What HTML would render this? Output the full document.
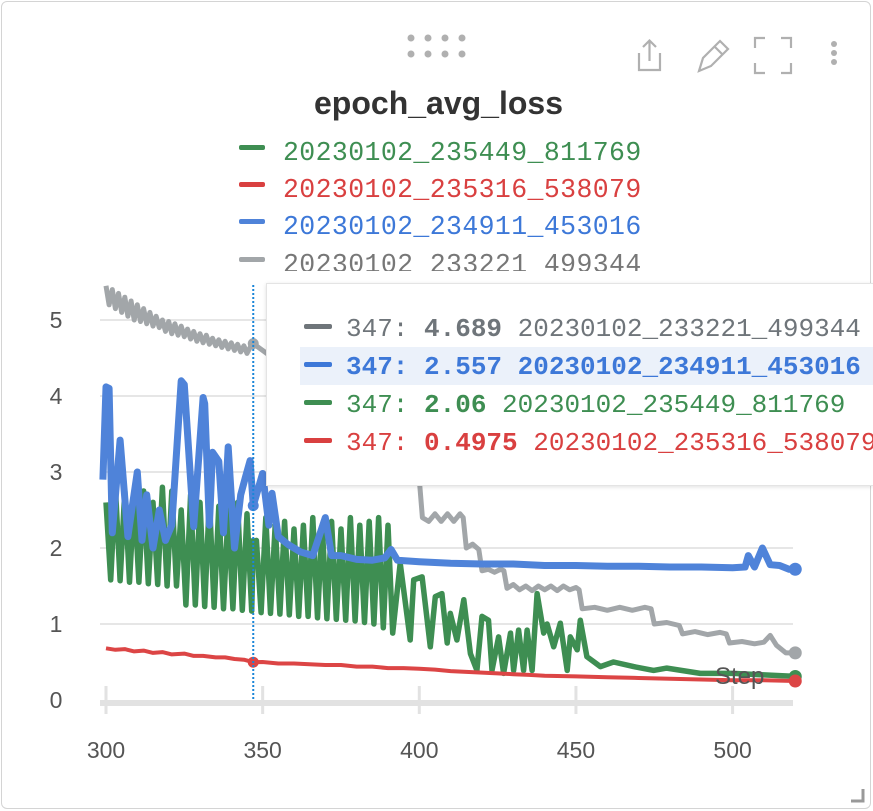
<!DOCTYPE html>
<html><head><meta charset="utf-8"><style>
html,body{margin:0;padding:0;background:#fff;width:873px;height:811px;overflow:hidden;font-family:"Liberation Sans",sans-serif;position:relative}
.card{position:absolute;left:1px;top:1px;width:868px;height:806px;border:1px solid #d4d4d4;border-radius:6px;background:#fff;overflow:hidden}
.title{position:absolute;left:0;width:873px;top:83px;text-align:center;font-size:32px;font-weight:bold;color:#333}
.leg{position:absolute;left:237px;font-family:"Liberation Mono",monospace;font-size:26.5px;letter-spacing:0.4px;white-space:nowrap;height:37px;line-height:37px}
.leg i{display:inline-block;width:26px;height:5px;border-radius:2px;vertical-align:middle;margin-right:18px;position:relative;top:-6px}
.tip{position:absolute;left:266px;top:283px;width:606px;height:201px;background:#fff;border:1px solid #e4e4e4;border-right:none;box-shadow:0 1px 4px rgba(0,0,0,.12);overflow:hidden}
.row{position:absolute;left:33px;width:573px;height:38px;line-height:38px;font-family:"Liberation Mono",monospace;font-size:26px;white-space:nowrap;padding-left:4px;overflow:hidden}
.row i{display:inline-block;width:28px;height:5px;border-radius:2px;vertical-align:middle;margin-right:14px;position:relative;top:-3px}
</style></head><body>
<div class="card">
<svg width="873" height="811" style="position:absolute;left:-1px;top:-1px">
 <g fill="#b0b0b0">
  <circle cx="410" cy="37" r="3.5"/><circle cx="427" cy="37" r="3.5"/><circle cx="444" cy="37" r="3.5"/><circle cx="461" cy="37" r="3.5"/>
  <circle cx="410" cy="53" r="3.5"/><circle cx="427" cy="53" r="3.5"/><circle cx="444" cy="53" r="3.5"/><circle cx="461" cy="53" r="3.5"/>
 </g>
 <g fill="none" stroke="#b0b0b0" stroke-width="2.2"><path d="M638 52v17h21v-17M648.5 60v-20M642 46l6.5-6.5 6.5 6.5"/></g>
 <g fill="none" stroke="#b0b0b0" stroke-width="2.2"><path d="M698 70l4-13 17-17 8 8-17 17z M713 45l8 8"/></g>
 <g fill="none" stroke="#b0b0b0" stroke-width="2.2"><path d="M754 47v-10h10M780 37h10v10M790 62v10h-10M764 72h-10v-10"/></g>
 <g fill="#b0b0b0"><circle cx="833" cy="43" r="3"/><circle cx="833" cy="52" r="3"/><circle cx="833" cy="61" r="3"/></g>
 <path d="M850 800h12v-12" fill="none" stroke="#999" stroke-width="3"/>
</svg>
<div class="title">epoch_avg_loss</div>
<div class="leg" style="top:133px;color:#3e8e52"><i style="background:#3e8e52"></i>20230102_235449_811769</div>
<div class="leg" style="top:170px;color:#d94040"><i style="background:#d94040"></i>20230102_235316_538079</div>
<div class="leg" style="top:207px;color:#3d78d8"><i style="background:#4f83d9"></i>20230102_234911_453016</div>
<div class="leg" style="top:245px;color:#777"><i style="background:#a2a6a9"></i>20230102_233221_499344</div>
</div>
<svg id="plot" width="873" height="811" style="position:absolute;left:0;top:0">
 <rect x="30" y="271" width="830" height="500" fill="#fff"/>
</svg>
<div class="tip">
 <div style="position:absolute;left:33px;top:63px;width:580px;height:38px;background:#ebf1fa"></div>
 <div class="row" style="top:26px;color:#6f757a"><i style="background:#6f757a"></i>347: <b>4.689</b> 20230102_233221_499344</div>
 <div class="row" style="top:64px;color:#3d78d8;font-weight:bold"><i style="background:#3d78d8"></i>347: 2.557 20230102_234911_453016</div>
 <div class="row" style="top:102px;color:#3e8e52"><i style="background:#3e8e52"></i>347: <b>2.06</b> 20230102_235449_811769</div>
 <div class="row" style="top:140px;color:#d94040"><i style="background:#d94040"></i>347: <b>0.4975</b> 20230102_235316_538079</div>
</div>
<script>
const yTicks=[0,1,2,3,4,5];
const xTicks=[300,350,400,450,500];
const hoverStep=347;
const hoverVals={gray:4.689,blue:2.557,green:2.06,red:0.4975};
const graySteps=[300,301,302,303,304,305,306,307,308,309,310,311,312,313,314,315,316,317,318,319,320,321,322,323,324,325,326,327,328,329,330,331,332,333,334,335,336,337,338,339,340,341,342,343,344,345,346,347,360,380,398,400,401,403,405,407,409,411,413,414,415,417,419,420,422,424,426,427,428,430,432,434,436,438,440,442,444,446,448,450,451,452,456,460,464,468,472,474,475,479,483,484,488,492,496,498,499,503,507,510,512,514,517,520];
const grayVals=[5.45,5.2,5.4,5.15,5.35,5.1,5.3,5.05,5.25,5.0,5.2,4.98,5.15,4.95,5.1,4.92,5.05,4.9,5.0,4.85,4.98,4.82,4.95,4.8,4.92,4.78,4.88,4.75,4.85,4.72,4.82,4.7,4.8,4.68,4.76,4.66,4.74,4.64,4.72,4.62,4.7,4.6,4.68,4.58,4.66,4.56,4.64,4.689,4.3,3.8,3.2,2.9,2.4,2.35,2.45,2.35,2.45,2.35,2.45,2.4,2.0,2.05,1.98,1.7,1.72,1.68,1.72,1.7,1.47,1.52,1.45,1.5,1.44,1.5,1.45,1.5,1.44,1.5,1.45,1.48,1.45,1.2,1.22,1.18,1.22,1.18,1.22,1.2,1.0,1.02,0.98,0.87,0.9,0.86,0.89,0.87,0.75,0.77,0.74,0.76,0.85,0.72,0.62,0.62];
const blueSteps=[299,300,301,302,304.5,307,310,311.5,313,315,317,319,321,324,325,328,331,331.5,333,334,336,337.5,339,341,343,344.5,346,347,350,352,353,355,358,362,366,370,372,375,380,385,389,391,393,400,410,420,430,440,450,460,470,480,490,500,504,505,507,509.5,512,515,518,520];
const blueVals=[2.9,4.12,4.1,2.2,3.42,2.15,3.0,2.1,2.7,2.0,2.5,2.1,2.3,4.2,4.15,2.28,3.98,3.9,2.3,3.26,3.14,2.2,3.33,2.0,2.7,2.93,3.15,2.557,2.98,2.3,2.72,2.15,2.05,1.95,1.9,2.4,1.9,1.9,1.85,1.84,1.87,1.98,1.84,1.82,1.8,1.79,1.79,1.77,1.77,1.76,1.76,1.75,1.75,1.74,1.75,1.9,1.75,2.0,1.78,1.77,1.72,1.72];
const greenSteps=[300,301.5,303,304.5,306,307.5,309,310.5,312,313.5,315,316.5,318,319.5,321,322.5,324,325.5,327,328.5,330,331.5,333,334.5,336,337.5,339,340.5,342,343.5,345,346.5,347,348,349.5,351,352.5,354,355.5,357,358.5,360,361.5,363,364.5,366,367.5,369,370.5,372,373.5,375,376.5,378,379.5,381,382.5,384,385.5,387,388.5,390,391.5,393.9,397.1,398.2,400.9,403.5,405.1,407.2,408.9,409.9,412,414.2,416.3,418.4,420,422.1,423.2,425.3,426.9,429.1,430.1,431.7,433.3,434.4,436,437.6,439.7,440.8,442.9,445,447.2,448.2,450.4,451.4,453.5,457.8,462,468.4,474.8,479,489.7,500.3,510,520];
const greenVals=[2.6,1.58,2.8,1.57,2.75,1.55,2.7,1.55,2.75,1.53,2.6,1.52,2.8,1.5,2.75,1.5,2.5,1.25,2.7,1.25,2.6,1.23,2.65,1.22,2.55,1.2,2.5,1.2,2.6,1.18,2.45,1.17,2.06,2.1,1.15,2.4,1.14,2.3,1.13,2.35,1.12,2.25,1.1,2.3,1.1,2.4,1.08,2.3,1.07,2.35,1.06,2.25,1.05,2.4,1.04,2.3,1.02,2.35,1.0,2.4,0.95,2.3,0.88,1.8,0.79,1.58,1.62,0.7,1.36,1.4,0.75,1.14,0.79,1.32,0.61,0.39,1.1,1.05,0.39,0.83,0.35,0.88,0.39,0.92,0.39,0.92,0.39,1.4,0.88,1.0,0.7,1.01,0.39,0.83,0.66,1.05,0.57,0.44,0.5,0.44,0.39,0.42,0.35,0.35,0.33,0.31];
const redSteps=[300,303,306,309,312,315,318,321,325,328,331,335,338,341,344,347,350,355,360,365,370,375,380,385,390,395,400,405,410,415,420,425,430,435,440,450,460,470,480,490,500,510,520];
const redVals=[0.68,0.66,0.67,0.64,0.65,0.62,0.63,0.6,0.61,0.58,0.58,0.56,0.56,0.54,0.53,0.4975,0.5,0.48,0.48,0.47,0.46,0.46,0.44,0.44,0.42,0.42,0.41,0.4,0.38,0.37,0.36,0.35,0.34,0.33,0.32,0.31,0.3,0.29,0.28,0.27,0.26,0.26,0.25];

const NS='http://www.w3.org/2000/svg';
const svg=document.getElementById('plot');
const X=s=>106+(s-300)*3.133;
const Y=v=>700-v*76;
function mk(tag,attrs,parent){const e=document.createElementNS(NS,tag);for(const k in attrs)e.setAttribute(k,attrs[k]);(parent||svg).appendChild(e);return e;}
yTicks.forEach(t=>{
  const g=mk('line',{x1:100,x2:793,y1:Y(t),y2:Y(t),stroke:t===0?'#fff':'#e6e6e6','stroke-width':2});
  
  
  const l=mk('text',{x:56,y:Y(t)+8,'text-anchor':'middle','font-size':23,fill:'#555','font-family':'Liberation Sans, sans-serif'});
  l.textContent=t;
  
  
});
const axis=mk('line',{x1:100,x2:793,y1:703,y2:703,stroke:'#e2e2e2','stroke-width':6});


xTicks.forEach(t=>{
  const tk=mk('line',{x1:X(t),x2:X(t),y1:686,y2:714,stroke:'#e2e2e2','stroke-width':3});
  
  
  const l=mk('text',{x:X(t),y:758,'text-anchor':'middle','font-size':23,fill:'#555','font-family':'Liberation Sans, sans-serif'});
  l.textContent=t;
  
  
});
function line(steps,vals,color,w,name){
  const d=steps.map((s,i)=>(i?'L':'M')+X(s).toFixed(1)+' '+Y(vals[i]).toFixed(1)).join('');
  const p=mk('path',{d:d,fill:'none',stroke:color,'stroke-width':w,'stroke-linejoin':'round'});
  
  
  const c=mk('circle',{cx:X(steps[steps.length-1]),cy:Y(vals[vals.length-1]),r:6.5,fill:color});
  
  
}
line(graySteps,grayVals,'#a2a6a9',5,'series-233221');
line(greenSteps,greenVals,'#3e8e52',5.5,'series-235449');
line(redSteps,redVals,'#dc4545',4,'series-235316');
line(blueSteps,blueVals,'#4f83d9',7,'series-234911');
[['gray','#a2a6a9'],['green','#3e8e52'],['red','#dc4545'],['blue','#4f83d9']].forEach(([k,c])=>{
  const m=mk('circle',{cx:X(hoverStep),cy:Y(hoverVals[k]),r:5.5,fill:c});
  
  
});
const vl=mk('line',{x1:X(hoverStep),x2:X(hoverStep),y1:285,y2:700,stroke:'#1a86d8','stroke-width':2,'stroke-dasharray':'2 2'});


const st=mk('text',{x:715,y:684,'font-size':24,fill:'#555','font-family':'Liberation Sans, sans-serif'});
st.textContent='Step';


</script>
</body></html>
